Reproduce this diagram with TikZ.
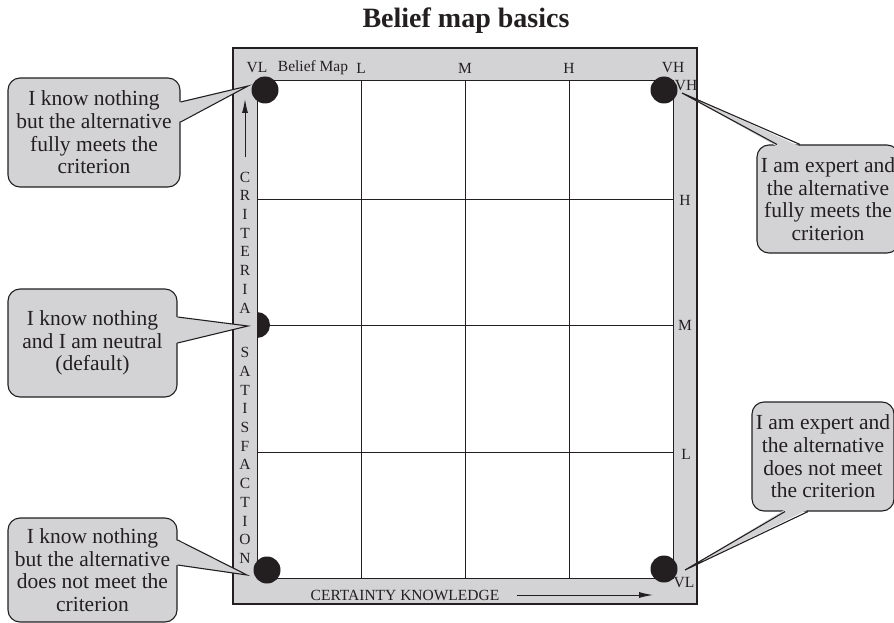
\documentclass[tikz,border=0pt]{standalone}
\usepackage{fontspec}
\setmainfont{Liberation Serif}
\usetikzlibrary{arrows.meta,positioning,calc}
\definecolor{MapGray}{RGB}{211,211,213}
\definecolor{MapInk}{RGB}{35,31,32}

\begin{document}
\begin{tikzpicture}[
        x=1pt, y=-1pt,
        font=\fontsize{15.5}{18}\selectfont,
        text=MapInk,
        frame/.style={
            draw=MapInk,
            fill=MapGray,
            line width=1.1pt
        },
        gridline/.style={
            draw=MapInk,
            line width=1pt
        },
        dot/.style={
            circle,
            fill=MapInk,
            minimum size=27pt,
            inner sep=0pt
        },
        tick/.style={
            inner sep=0pt
        },
        letters/.style={
            align=center,
            inner sep=0pt,
            font=\fontsize{15.5}{18.7}\selectfont
        },
        bubble/.style={
            draw=MapInk,
            fill=MapGray,
            rounded corners=12pt,
            line width=1.1pt,
            align=center,
            inner sep=2pt,
            minimum height=108pt,
            font=\fontsize{21.5}{22.7}\selectfont
        },
        wedge/.style={
            fill=MapGray
        },
        wedgeline/.style={
            draw=MapInk,
            line width=1.1pt,
            line join=miter
        },
        arrow/.style={
            -{Latex[length=14pt,width=6pt]},
            draw=MapInk,
            line width=1pt
        }
    ]
    \useasboundingbox (0,0) rectangle (894,623);

    % Title
    \node[font=\bfseries\fontsize{28}{32}\selectfont] (title) at (466,21) {Belief map basics};

    % Map frame and grid
    \draw[frame] (233,48) rectangle (697,604);
    \draw[gridline, fill=white] (257,81) rectangle (673,578);
    \draw[gridline] (361,81) -- (361,578);
    \draw[gridline] (465,81) -- (465,578);
    \draw[gridline] (569,81) -- (569,578);
    \draw[gridline] (257,199) -- (673,199);
    \draw[gridline] (257,325) -- (673,325);
    \draw[gridline] (257,452) -- (673,452);

    % Top scale
    \node[tick] (tVL) at (257,68) {VL};
    \node[tick] (tname) at (313,68) {Belief Map};
    \node[tick] (tL) at (361,68) {L};
    \node[tick] (tM) at (465,68) {M};
    \node[tick] (tH) at (569,68) {H};
    \node[tick] (tVH) at (673,68) {VH};

    % Right scale
    \node[tick] (rVH) at (686,86) {VH};
    \node[tick] (rH) at (685,200) {H};
    \node[tick] (rM) at (685,325) {M};
    \node[tick] (rL) at (686,454) {L};
    \node[tick] (rVL) at (684,583) {VL};

    % Left axis
    \node[letters] (crit) at (245,242.5) {C\\R\\I\\T\\E\\R\\I\\A};
    \node[letters] (satis) at (245,455.5) {S\\A\\T\\I\\S\\F\\A\\C\\T\\I\\O\\N};
    \coordinate (upFoot) at (245,157);
    \coordinate (upTip) at (245,99);
    \draw[arrow] (upFoot) -- (upTip);

    % Bottom axis
    \node[tick] (know) at (405,595) {CERTAINTY KNOWLEDGE};
    \coordinate (knowFoot) at (517,595);
    \coordinate (knowTip) at (653,595);
    \draw[arrow] (knowFoot) -- (knowTip);

    % Belief dots
    \node[dot] (dTL) at (265,90) {};
    \node[dot] (dTR) at (664,90) {};
    \node[dot] (dBL) at (267,570) {};
    \node[dot] (dBR) at (664,569) {};
    \fill[MapInk] (257,312) arc[start angle=-90, end angle=90, radius=13];
    \coordinate (dMid) at (257,325);

    % Callouts
    \node[bubble, minimum width=172pt, minimum height=109pt] (c1) at (94,132.5) {
        I know nothing\\but the alternative\\fully meets the\\criterion
    };
    \node[bubble, minimum width=169pt] (c2) at (92.5,343) {
        I know nothing\\and I am neutral\\(default)
    };
    \node[bubble, minimum width=169pt, minimum height=104pt] (c3) at (92.5,570) {
        I know nothing\\but the alternative\\does not meet the\\criterion
    };
    \node[bubble, minimum width=142pt] (c4) at (828,199) {
        I am expert and\\the alternative\\fully meets the\\criterion
    };
    \node[bubble, minimum width=142pt, minimum height=109pt] (c5) at (823,456.5) {
        I am expert and\\the alternative\\does not meet\\the criterion
    };

    \coordinate (p1) at (248,86);
    \coordinate (p2) at (248,326);
    \coordinate (p3) at (247,575);
    \coordinate (p4) at (682,93);
    \coordinate (p5) at (685,570);

    \fill[wedge] ($(c1.east)+(-2,-30.5)$) -- (p1) -- ($(c1.east)+(-2,-10.5)$) -- cycle;
    \draw[wedgeline] ($(c1.east)+(0,-30.5)$) -- (p1) -- ($(c1.east)+(0,-10.5)$);

    \fill[wedge] ($(c2.east)+(-2,-26)$) -- (p2) -- ($(c2.east)+(-2,0)$) -- cycle;
    \draw[wedgeline] ($(c2.east)+(0,-26)$) -- (p2) -- ($(c2.east)+(0,0)$);

    \fill[wedge] ($(c3.east)+(-2,-30)$) -- (p3) -- ($(c3.east)+(-2,-5)$) -- cycle;
    \draw[wedgeline] ($(c3.east)+(0,-30)$) -- (p3) -- ($(c3.east)+(0,-5)$);

    \fill[wedge] ($(c4.north)+(-51,2)$) -- (p4) -- ($(c4.north)+(-28,2)$) -- cycle;
    \draw[wedgeline] ($(c4.north)+(-51,0)$) -- (p4) -- ($(c4.north)+(-28,0)$);

    \fill[wedge] ($(c5.south)+(-38,-2)$) -- (p5) -- ($(c5.south)+(-15,-2)$) -- cycle;
    \draw[wedgeline] ($(c5.south)+(-38,0)$) -- (p5) -- ($(c5.south)+(-15,0)$);

\end{tikzpicture}
\end{document}
